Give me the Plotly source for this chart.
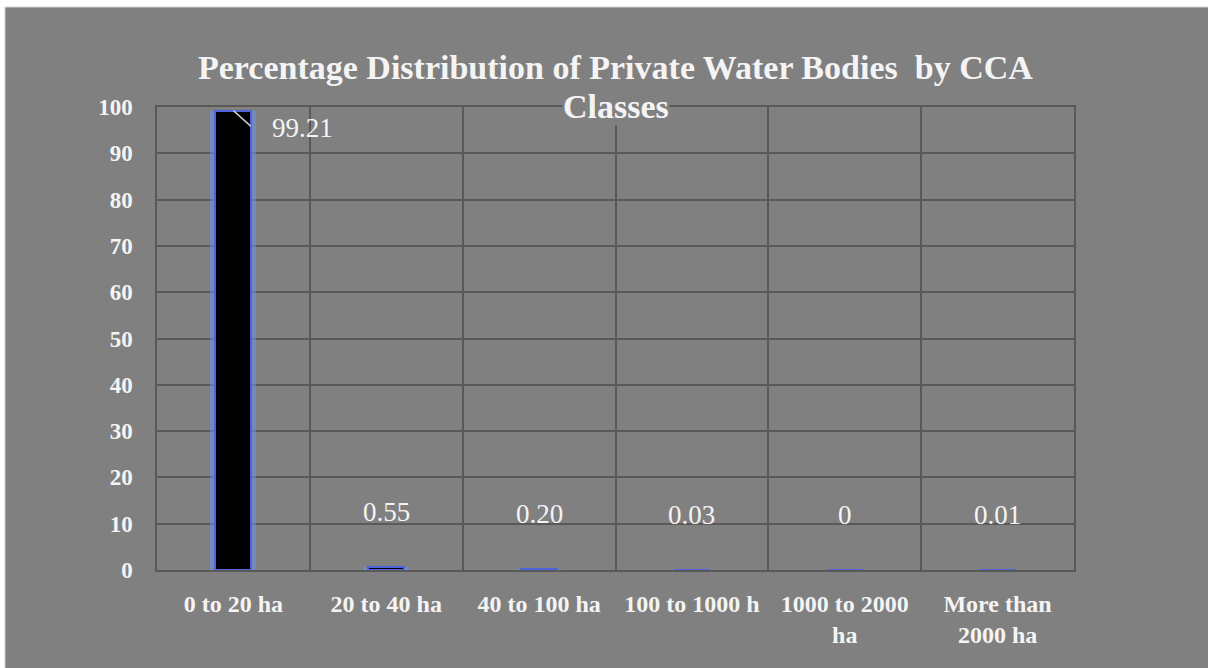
import plotly.graph_objects as go

categories = ["0 to 20 ha", "20 to 40 ha", "40 to 100 ha", "100 to 1000 h",
              "1000 to 2000<br>ha", "More than<br>2000 ha"]
values = [99.21, 0.55, 0.20, 0.03, 0, 0.01]
labels = ["99.21", "0.55", "0.20", "0.03", "0", "0.01"]
y_ticks = [0, 10, 20, 30, 40, 50, 60, 70, 80, 90, 100]

BG = "#808080"
GRID = "#595959"
TXT = "#f4f4f4"
FONT = "Liberation Serif, Times New Roman, serif"

fig = go.Figure()
# soft glow behind bars
fig.add_trace(go.Bar(x=categories, y=values, width=0.30,
                     marker=dict(color="rgba(100,150,235,0.55)", line=dict(width=0)),
                     hoverinfo="skip", showlegend=False))
fig.add_trace(go.Bar(x=categories, y=values, width=0.235,
                     marker=dict(color="#000000", line=dict(color="#4f63dc", width=2)),
                     showlegend=False))

fig.update_layout(
    width=1208, height=668,
    margin=dict(l=157, r=134, t=107, b=98),
    paper_bgcolor="white", plot_bgcolor="rgba(0,0,0,0)",
    barmode="overlay", bargap=0,
    font=dict(family=FONT, color=TXT),
    showlegend=False,
)

# grey chart area with thin white border at top/left
fig.add_shape(type="rect", xref="paper", yref="paper",
              x0=-0.1658, x1=1.2, y0=-0.3, y1=1.216,
              fillcolor=BG, line=dict(color="#d4d4d4", width=1), layer="below")

fig.update_yaxes(range=[0, 100], tickvals=y_ticks, showgrid=True,
                 gridcolor=GRID, gridwidth=1.5, zeroline=False,
                 showline=True, mirror=True, linecolor=GRID, linewidth=1.5,
                 ticks="", ticklabelstandoff=18,
                 tickfont=dict(family=FONT, size=23, color=TXT, weight="bold"))
fig.update_xaxes(type="category", tickson="boundaries", showgrid=True,
                 gridcolor=GRID, gridwidth=1.5,
                 showline=True, mirror=True, linecolor=GRID, linewidth=1.5,
                 ticks="", ticklabelstandoff=11, range=[-0.5, 5.5],
                 tickfont=dict(family=FONT, size=24, color=TXT, weight="bold"))

# title (two lines, second has background covering gridlines)
fig.add_annotation(text="<b>Percentage Distribution of Private Water Bodies  by CCA</b>",
                   xref="paper", yref="paper", x=0.5, y=1.0, yshift=40,
                   xanchor="center", yanchor="middle", showarrow=False,
                   font=dict(family=FONT, size=34, color=TXT))
fig.add_annotation(text="<b>Classes</b>",
                   xref="paper", yref="paper", x=0.5, y=1.0, yshift=1,
                   xanchor="center", yanchor="middle", showarrow=False,
                   bgcolor=BG, borderpad=0,
                   font=dict(family=FONT, size=34, color=TXT))

# data labels
for i, (c, v, t) in enumerate(zip(categories, values, labels)):
    if i == 0:
        fig.add_annotation(x=c, y=v, text=" ", showarrow=True, arrowhead=0,
                           arrowwidth=1.5, arrowcolor="#c8c8c8",
                           ax=19, ay=17, font=dict(size=1))
        fig.add_annotation(x=c, y=v, text=t, showarrow=False,
                           xshift=69, yshift=-17,
                           font=dict(family=FONT, size=27, color=TXT))
    else:
        fig.add_annotation(x=c, y=v, text=t, showarrow=False,
                           yshift=55, yanchor="middle",
                           font=dict(family=FONT, size=27, color=TXT))

fig.write_html("out.html",
               config={"displayModeBar": False},
               post_script="document.body.style.margin='0';document.body.style.overflow='hidden';")
